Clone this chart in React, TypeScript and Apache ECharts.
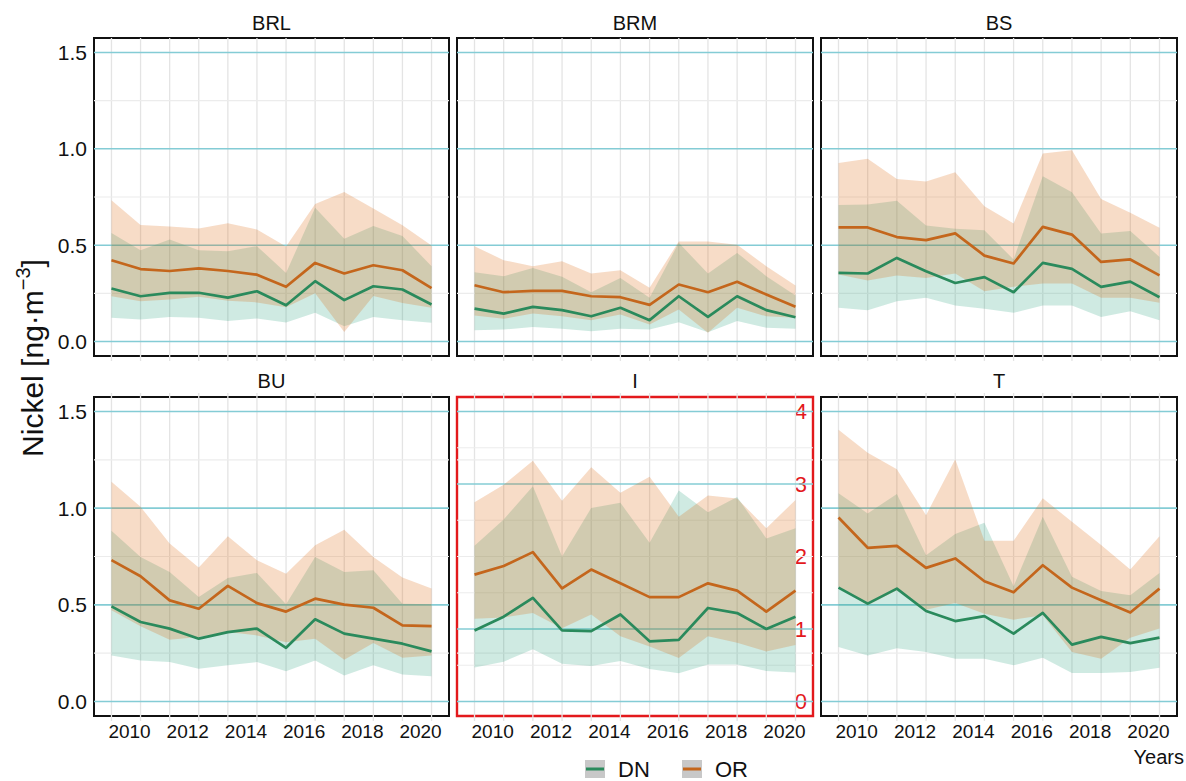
import React, { useEffect, useRef } from "react";
import * as echarts from "echarts";

const years = [2009, 2010, 2011, 2012, 2013, 2014, 2015, 2016, 2017, 2018, 2019, 2020];
const panelNames = ["BRL", "BRM", "BS", "BU", "I", "T"];

// BRL
const brlDnMean = [0.275, 0.235, 0.253, 0.253, 0.228, 0.261, 0.188, 0.313, 0.215, 0.287, 0.27, 0.192];
const brlDnLow = [0.123, 0.114, 0.128, 0.123, 0.106, 0.12, 0.099, 0.149, 0.08, 0.128, 0.11, 0.098];
const brlDnHigh = [0.563, 0.474, 0.529, 0.474, 0.469, 0.495, 0.356, 0.694, 0.533, 0.599, 0.547, 0.391];
const brlOrMean = [0.422, 0.376, 0.366, 0.38, 0.366, 0.347, 0.284, 0.408, 0.353, 0.396, 0.37, 0.277];
const brlOrLow = [0.235, 0.209, 0.218, 0.232, 0.212, 0.203, 0.178, 0.25, 0.05, 0.236, 0.2, 0.176];
const brlOrHigh = [0.733, 0.605, 0.597, 0.587, 0.614, 0.581, 0.493, 0.714, 0.776, 0.69, 0.603, 0.498];

// BRM
const brmDnMean = [0.171, 0.145, 0.18, 0.163, 0.131, 0.175, 0.111, 0.235, 0.128, 0.235, 0.163, 0.126];
const brmDnLow = [0.059, 0.062, 0.076, 0.066, 0.054, 0.066, 0.062, 0.1, 0.048, 0.106, 0.071, 0.066];
const brmDnHigh = [0.36, 0.339, 0.382, 0.336, 0.256, 0.33, 0.227, 0.512, 0.353, 0.46, 0.339, 0.239];
const brmOrMean = [0.292, 0.256, 0.263, 0.263, 0.235, 0.23, 0.19, 0.296, 0.256, 0.31, 0.244, 0.18];
const brmOrLow = [0.135, 0.118, 0.145, 0.131, 0.111, 0.14, 0.088, 0.166, 0.045, 0.175, 0.131, 0.123];
const brmOrHigh = [0.495, 0.422, 0.391, 0.417, 0.353, 0.37, 0.279, 0.519, 0.519, 0.502, 0.391, 0.291];

// BS
const bsDnMean = [0.356, 0.353, 0.434, 0.365, 0.304, 0.334, 0.256, 0.408, 0.377, 0.284, 0.311, 0.23];
const bsDnLow = [0.175, 0.163, 0.209, 0.227, 0.187, 0.17, 0.149, 0.187, 0.187, 0.128, 0.157, 0.111];
const bsDnHigh = [0.708, 0.711, 0.73, 0.602, 0.585, 0.578, 0.426, 0.858, 0.775, 0.561, 0.573, 0.439];
const bsOrMean = [0.592, 0.592, 0.542, 0.526, 0.561, 0.446, 0.405, 0.595, 0.555, 0.413, 0.426, 0.343];
const bsOrLow = [0.348, 0.317, 0.343, 0.33, 0.353, 0.261, 0.284, 0.301, 0.301, 0.227, 0.227, 0.201];
const bsOrHigh = [0.927, 0.948, 0.844, 0.83, 0.879, 0.702, 0.612, 0.976, 0.993, 0.74, 0.668, 0.59];

// BU
const buDnMean = [0.492, 0.411, 0.377, 0.325, 0.359, 0.377, 0.278, 0.425, 0.351, 0.325, 0.299, 0.259];
const buDnLow = [0.238, 0.212, 0.204, 0.169, 0.187, 0.204, 0.157, 0.212, 0.135, 0.187, 0.14, 0.13];
const buDnHigh = [0.883, 0.748, 0.67, 0.541, 0.639, 0.665, 0.503, 0.748, 0.67, 0.679, 0.506, 0.503];
const buOrMean = [0.731, 0.648, 0.523, 0.48, 0.598, 0.509, 0.465, 0.532, 0.501, 0.485, 0.394, 0.39];
const buOrLow = [0.472, 0.389, 0.32, 0.333, 0.359, 0.342, 0.307, 0.325, 0.216, 0.302, 0.226, 0.238];
const buOrHigh = [1.136, 1.007, 0.817, 0.693, 0.855, 0.731, 0.661, 0.808, 0.889, 0.748, 0.641, 0.584];

// I (own scale, 0-4)
const iDnMean = [0.98, 1.17, 1.43, 0.98, 0.97, 1.2, 0.83, 0.85, 1.29, 1.22, 1.0, 1.17];
const iDnLow = [0.47, 0.55, 0.72, 0.52, 0.49, 0.56, 0.45, 0.39, 0.51, 0.51, 0.42, 0.4];
const iDnHigh = [2.15, 2.51, 2.97, 2.0, 2.67, 2.74, 2.19, 2.91, 2.61, 2.82, 2.25, 2.39];
const iOrMean = [1.75, 1.87, 2.06, 1.56, 1.82, 1.63, 1.44, 1.44, 1.63, 1.53, 1.24, 1.53];
const iOrLow = [1.14, 1.16, 1.22, 1.01, 1.2, 0.9, 0.76, 0.6, 0.9, 0.81, 0.69, 0.78];
const iOrHigh = [2.75, 2.99, 3.32, 2.77, 3.23, 2.88, 3.1, 2.55, 2.84, 2.8, 2.39, 2.78];

// T
const tDnMean = [0.589, 0.506, 0.584, 0.468, 0.416, 0.442, 0.351, 0.458, 0.294, 0.334, 0.302, 0.33];
const tDnLow = [0.282, 0.238, 0.276, 0.256, 0.221, 0.221, 0.187, 0.226, 0.147, 0.147, 0.152, 0.175];
const tDnHigh = [1.077, 0.973, 1.073, 0.757, 0.866, 0.924, 0.596, 0.956, 0.645, 0.572, 0.55, 0.665];
const tOrMean = [0.952, 0.795, 0.805, 0.691, 0.74, 0.622, 0.565, 0.705, 0.589, 0.524, 0.46, 0.584];
const tOrLow = [0.593, 0.498, 0.575, 0.475, 0.51, 0.454, 0.423, 0.446, 0.256, 0.221, 0.33, 0.377];
const tOrHigh = [1.405, 1.287, 1.201, 0.964, 1.253, 0.831, 0.831, 1.051, 0.93, 0.809, 0.683, 0.855];

const dnMeans = [brlDnMean, brmDnMean, bsDnMean, buDnMean, iDnMean, tDnMean];
const dnLows = [brlDnLow, brmDnLow, bsDnLow, buDnLow, iDnLow, tDnLow];
const dnHighs = [brlDnHigh, brmDnHigh, bsDnHigh, buDnHigh, iDnHigh, tDnHigh];
const orMeans = [brlOrMean, brmOrMean, bsOrMean, buOrMean, iOrMean, tOrMean];
const orLows = [brlOrLow, brmOrLow, bsOrLow, buOrLow, iOrLow, tOrLow];
const orHighs = [brlOrHigh, brmOrHigh, bsOrHigh, buOrHigh, iOrHigh, tOrHigh];

const yTickMajor = [0, 0.5, 1.0, 1.5];
const yTickMinor = [0.25, 0.75, 1.25];
const iTickMajor = [0, 1, 3, 4];
const iTickMinor = [0.5, 1.5, 2, 2.5, 3.5];
const xTickLabels = [2010, 2012, 2014, 2016, 2018, 2020];

const X_MIN = 2008.4;
const X_MAX = 2020.6;
const Y_MIN = -0.075;
const Y_MAX = 1.575;
const I_MIN = -0.2;
const I_MAX = 4.2;

const GREEN = "#2a8a5c";
const ORANGE = "#c4661c";
const GREEN_FILL = "rgba(27,158,119,0.21)";
const ORANGE_FILL = "rgba(217,95,2,0.22)";
const CYAN = "#84ccd5";
const MINOR = "#ececec";
const VGRID = "#e4e4e4";
const RED = "#e3191c";
const FONT = "Liberation Sans, Arial, Helvetica, sans-serif";

const colLeft = [94, 457, 821];
const colWidth = [355, 356, 356];
const rowTop = [38, 397];
const rowHeight = [318, 319];

function App() {
  const ref = useRef<HTMLDivElement>(null);
  useEffect(() => {
    if (!ref.current) return;
    const chart = echarts.init(ref.current, null, { renderer: "svg" });

    const grids: any[] = [];
    const xAxes: any[] = [];
    const yAxes: any[] = [];
    const series: any[] = [];
    const graphics: any[] = [];

    panelNames.forEach((name, k) => {
      const row = Math.floor(k / 3);
      const col = k % 3;
      const isI = name === "I";
      const left = colLeft[col];
      const top = rowTop[row];
      const width = colWidth[col];
      const height = rowHeight[row];
      grids.push({
        left,
        top,
        width,
        height,
        show: true,
        backgroundColor: "transparent",
        borderColor: isI ? RED : "#111",
        borderWidth: isI ? 2.4 : 2,
        containLabel: false,
        outerBoundsMode: "none",
      });
      xAxes.push({
        type: "value",
        gridIndex: k,
        min: X_MIN,
        max: X_MAX,
        interval: 0.2,
        axisLine: { show: false },
        axisTick: { show: false },
        splitLine: { show: false },
        axisLabel: {
          show: row === 1,
          margin: 6,
          fontSize: 19,
          fontFamily: FONT,
          color: "#111",
          padding: [0, 22, 0, 0],
          formatter: (v: number) => {
            const r = Math.round(v);
            return Math.abs(v - r) < 1e-6 && xTickLabels.includes(r) ? String(r) : "";
          },
        },
      });
      yAxes.push({
        type: "value",
        gridIndex: k,
        min: Y_MIN,
        max: Y_MAX,
        interval: 0.025,
        axisLine: { show: false },
        axisTick: { show: false },
        splitLine: { show: false },
        axisLabel: {
          show: col === 0,
          margin: 7,
          fontSize: 21,
          fontFamily: FONT,
          color: "#111",
          formatter: (v: number) => {
            const m = yTickMajor.find((t) => Math.abs(t - v) < 1e-6);
            return m === undefined ? "" : m.toFixed(1);
          },
        },
      });
      graphics.push({
        type: "text",
        x: left + width / 2,
        y: row === 0 ? 23 : 381,
        style: {
          text: name,
          align: "center",
          verticalAlign: "middle",
          fontSize: 20,
          fontFamily: FONT,
          fill: "#111",
        },
      });
    });

    // extra right axis for I panel
    const I_AXIS = yAxes.length;
    yAxes.push({
      type: "value",
      gridIndex: 4,
      position: "right",
      min: I_MIN,
      max: I_MAX,
      interval: 0.1,
      axisLine: { show: false },
      axisTick: { show: false },
      splitLine: { show: false },
      axisLabel: {
        show: true,
        inside: true,
        margin: 6,
        fontSize: 22,
        fontFamily: FONT,
        color: RED,
        formatter: (v: number) => {
          const r = Math.round(v);
          return Math.abs(v - r) < 1e-6 && r >= 0 && r <= 4 ? String(r) : "";
        },
      },
    });

    const hLineSeries = (xi: number, yi: number, vals: number[], color: string, w: number) => ({
      type: "custom",
      xAxisIndex: xi,
      yAxisIndex: yi,
      silent: true,
      clip: false,
      data: vals.map((v) => [X_MIN, v]),
      renderItem: (_p: any, api: any) => {
        const v = api.value(1);
        const a = api.coord([X_MIN, v]);
        const b = api.coord([X_MAX, v]);
        return {
          type: "line",
          shape: { x1: a[0], y1: a[1], x2: b[0], y2: b[1] },
          style: { stroke: color, lineWidth: w },
        };
      },
    });

    const vLineSeries = (xi: number, yi: number, ymin: number, ymax: number, topExt: number) => ({
      type: "custom",
      xAxisIndex: xi,
      yAxisIndex: yi,
      silent: true,
      clip: false,
      data: years.map((y) => [y, ymin]),
      renderItem: (_p: any, api: any) => {
        const x = api.value(0);
        const a = api.coord([x, ymin]);
        const b = api.coord([x, ymax]);
        return {
          type: "line",
          shape: { x1: a[0], y1: a[1] + 5, x2: b[0], y2: b[1] - topExt },
          style: { stroke: VGRID, lineWidth: 1.3 },
        };
      },
    });

    const bandSeries = (xi: number, yi: number, low: number[], high: number[], fill: string) => ({
      type: "custom",
      xAxisIndex: xi,
      yAxisIndex: yi,
      silent: true,
      data: years.map((y, i) => [y, low[i], high[i]]),
      encode: { x: 0, y: [1, 2] },
      renderItem: (p: any, api: any) => {
        if (p.dataIndex !== 0) return null;
        const upper = years.map((y, i) => api.coord([y, high[i]]));
        const lower = years.map((y, i) => api.coord([y, low[i]])).reverse();
        return {
          type: "polygon",
          shape: { points: upper.concat(lower) },
          style: { fill },
        };
      },
    });

    const lineSeries = (xi: number, yi: number, name: string, vals: number[], color: string) => ({
      type: "line",
      name,
      xAxisIndex: xi,
      yAxisIndex: yi,
      silent: true,
      symbol: "none",
      data: years.map((y, i) => [y, vals[i]]),
      lineStyle: { color, width: 2.7, join: "round" },
      itemStyle: { color },
      z: 3,
    });

    panelNames.forEach((name, k) => {
      const isI = name === "I";
      const yi = isI ? I_AXIS : k;
      const row = Math.floor(k / 3);
      if (isI) {
        const leftMinorInI = yTickMinor.map((v) => (v * I_MAX) / Y_MAX);
        series.push(vLineSeries(k, yi, I_MIN, I_MAX, row === 1 ? 4 : 0));
        series.push(hLineSeries(k, yi, iTickMinor.concat(leftMinorInI), MINOR, 1.2));
        series.push(hLineSeries(k, yi, iTickMajor, CYAN, 1.6));
      } else {
        series.push(vLineSeries(k, yi, Y_MIN, Y_MAX, row === 1 ? 4 : 0));
        series.push(hLineSeries(k, yi, yTickMinor, MINOR, 1.2));
        series.push(hLineSeries(k, yi, yTickMajor, CYAN, 1.6));
      }
      series.push(bandSeries(k, yi, dnLows[k], dnHighs[k], GREEN_FILL));
      series.push(bandSeries(k, yi, orLows[k], orHighs[k], ORANGE_FILL));
      series.push(lineSeries(k, yi, "DN", dnMeans[k], GREEN));
      series.push(lineSeries(k, yi, "OR", orMeans[k], ORANGE));
    });

    // y-axis title
    graphics.push({
      type: "text",
      x: 32,
      y: 358,
      rotation: Math.PI / 2,
      style: {
        text: "{a|Nickel [ng·m}{b|−3}{a|]}",
        align: "center",
        verticalAlign: "middle",
        rich: {
          a: { fontSize: 30, fontFamily: FONT, fill: "#111", lineHeight: 39 },
          b: { fontSize: 20, fontFamily: FONT, fill: "#111", lineHeight: 39, verticalAlign: "top" },
        },
      },
    });
    // Years label
    graphics.push({
      type: "text",
      x: 1184,
      y: 757,
      style: {
        text: "Years",
        align: "right",
        verticalAlign: "middle",
        fontSize: 20,
        fontFamily: FONT,
        fill: "#111",
      },
    });
    // legend
    const legendItems = [
      { label: "DN", color: GREEN, x: 585 },
      { label: "OR", color: ORANGE, x: 682 },
    ];
    legendItems.forEach((it) => {
      graphics.push({
        type: "rect",
        shape: { x: it.x, y: 760, width: 20, height: 18 },
        style: { fill: "#c8c8c8" },
      });
      graphics.push({
        type: "line",
        shape: { x1: it.x + 1, y1: 769, x2: it.x + 19, y2: 769 },
        style: { stroke: it.color, lineWidth: 3 },
      });
      graphics.push({
        type: "text",
        x: it.x + 33,
        y: 769,
        style: {
          text: it.label,
          align: "left",
          verticalAlign: "middle",
          fontSize: 22,
          fontFamily: FONT,
          fill: "#111",
        },
      });
    });

    chart.setOption({
      animation: false,
      backgroundColor: "#ffffff",
      grid: grids,
      xAxis: xAxes,
      yAxis: yAxes,
      series,
      graphic: graphics,
    });

    return () => chart.dispose();
  }, []);

  return (
    <div
      ref={ref}
      style={{ position: "fixed", left: 0, top: 0, width: 1186, height: 781, background: "#fff" }}
    />
  );
}

export default App;
